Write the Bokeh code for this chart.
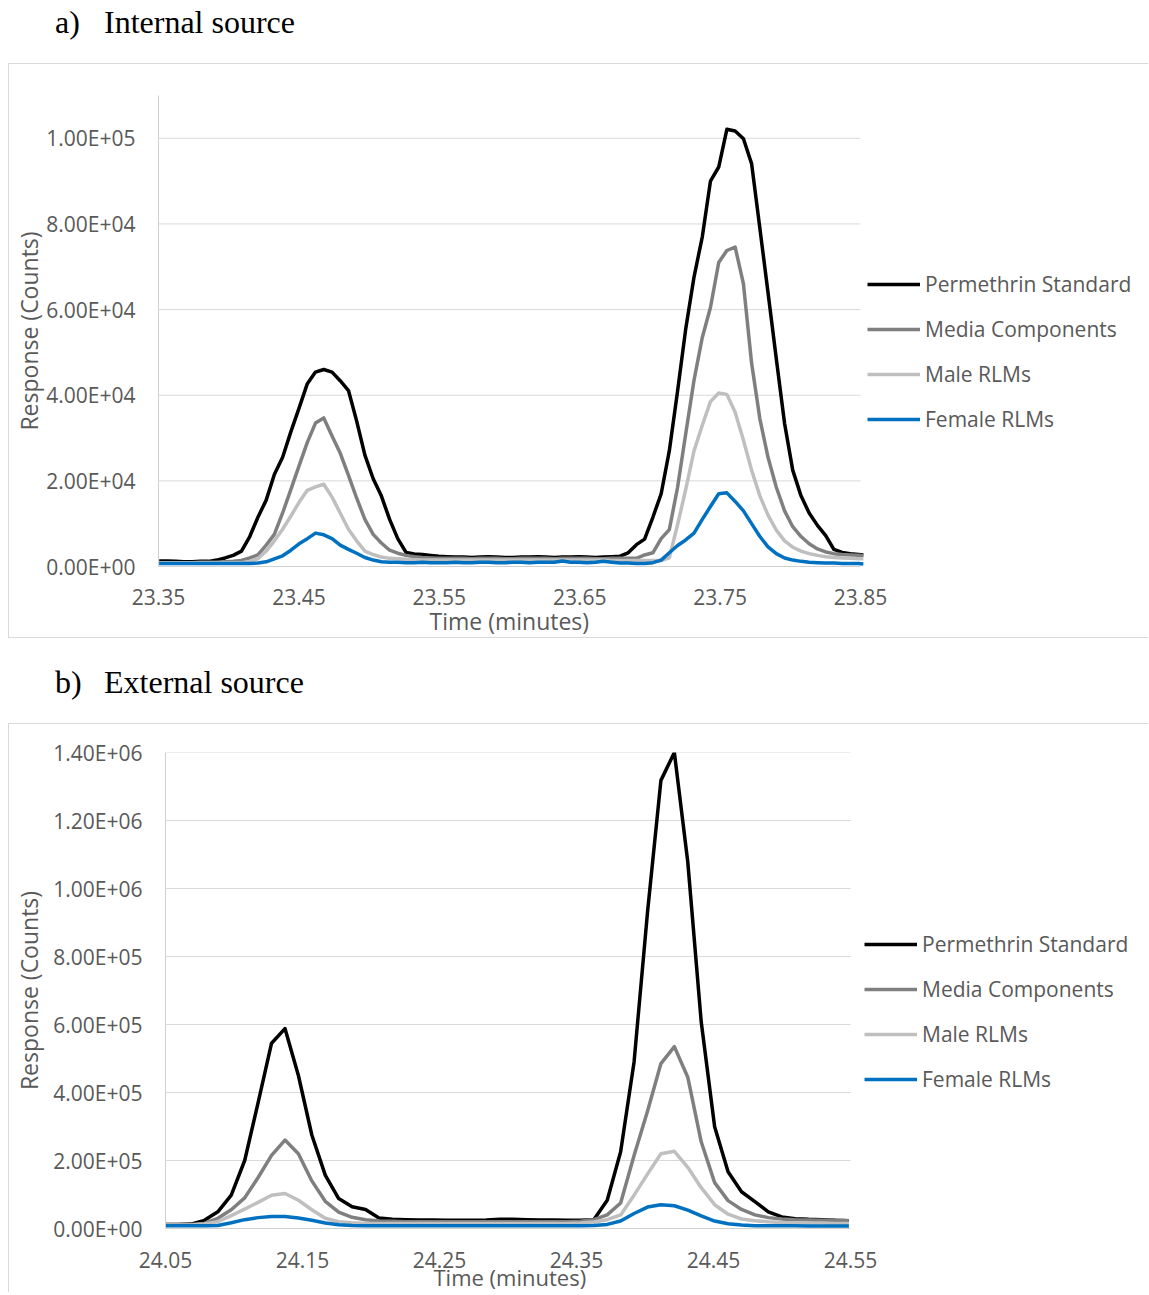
from bokeh.plotting import figure
from bokeh.models import ColumnDataSource, Legend, LegendItem, FixedTicker, Div, Range1d, Title
from bokeh.embed import file_html
from bokeh.resources import INLINE

# ---------------- data ----------------
series_names = ["Permethrin Standard", "Media Components", "Male RLMs", "Female RLMs"]
series_colors = ["#000000", "#7f7f7f", "#bfbfbf", "#0070c0"]

# Panel a) Internal source
time_a = [23.3505, 23.3564, 23.3622, 23.3681, 23.3739, 23.3798, 23.3857, 23.3915, 23.3974, 23.4032,
          23.4091, 23.4150, 23.4208, 23.4267, 23.4325, 23.4384, 23.4443, 23.4501, 23.4560, 23.4618,
          23.4677, 23.4736, 23.4794, 23.4853, 23.4911, 23.4970, 23.5029, 23.5087, 23.5146, 23.5204,
          23.5263, 23.5322, 23.5380, 23.5439, 23.5497, 23.5556, 23.5615, 23.5673, 23.5732, 23.5790,
          23.5849, 23.5908, 23.5966, 23.6025, 23.6083, 23.6142, 23.6201, 23.6259, 23.6318, 23.6376,
          23.6435, 23.6494, 23.6552, 23.6611, 23.6669, 23.6728, 23.6787, 23.6845, 23.6904, 23.6962,
          23.7021, 23.7080, 23.7138, 23.7197, 23.7255, 23.7314, 23.7373, 23.7431, 23.7490, 23.7548,
          23.7607, 23.7666, 23.7724, 23.7783, 23.7841, 23.7900, 23.7959, 23.8017, 23.8076, 23.8134,
          23.8193, 23.8252, 23.8310, 23.8369, 23.8427, 23.8486, 23.8520]

permethrin_a = [1300, 1300, 1200, 1100, 1100, 1200, 1200, 1500, 2000, 2600,
                3600, 7000, 11500, 15500, 21500, 25500, 31500, 37000, 42700, 45400,
                46000, 45400, 43400, 41100, 34000, 26000, 20500, 16500, 11000, 6500,
                3300, 2900, 2800, 2600, 2400, 2300, 2200, 2200, 2100, 2200,
                2300, 2200, 2100, 2100, 2200, 2200, 2300, 2200, 2100, 2200,
                2200, 2300, 2200, 2100, 2200, 2300, 2400, 3200, 5100, 6400,
                11500, 17000, 27000, 41000, 55500, 67600, 77000, 90000, 93300, 102100,
                101700, 99900, 94100, 79000, 64000, 48500, 33400, 22500, 16500, 12500,
                9600, 7200, 4000, 3300, 3000, 2800, 2700]

media_a = [900, 900, 900, 900, 900, 1000, 1000, 1000, 1100, 1200,
           1400, 2000, 2700, 5000, 7500, 12500, 18000, 23500, 29000, 33500,
           34700, 30500, 26500, 21300, 16000, 11000, 7500, 5500, 3800, 3100,
           2600, 2300, 2100, 2000, 1900, 1900, 1900, 1900, 1800, 1900,
           1900, 1900, 1800, 1800, 1900, 1900, 1900, 1900, 1800, 1900,
           1900, 1900, 1900, 1800, 1800, 1900, 1900, 1900, 1900, 2700,
           3200, 6500, 8600, 18500, 31000, 43500, 53500, 60500, 71000, 73800,
           74600, 66000, 47500, 34500, 25500, 18500, 13000, 9300, 7000, 5300,
           4100, 3400, 3000, 2800, 2700, 2600, 2500]

male_a = [900, 900, 900, 900, 900, 900, 900, 900, 900, 900,
          900, 1200, 1800, 3600, 6000, 8700, 11800, 15000, 17800, 18600,
          19200, 16200, 12500, 8700, 6000, 3600, 2800, 2200, 1900, 1800,
          1700, 1600, 1500, 1500, 1500, 1500, 1500, 1500, 1500, 1500,
          1500, 1500, 1500, 1500, 1500, 1500, 1500, 1500, 1500, 1500,
          1500, 1500, 1500, 1500, 1500, 1400, 1400, 1400, 1400, 1400,
          1400, 1400, 2000, 9800, 18000, 27000, 33000, 38500, 40500, 40200,
          36000, 29500, 22500, 16500, 12000, 8500, 6000, 4500, 3600, 3000,
          2600, 2300, 2100, 2000, 1900, 1800, 1800]

female_a = [700, 700, 700, 700, 700, 700, 700, 700, 700, 700,
            700, 700, 800, 1100, 1800, 2500, 3800, 5300, 6500, 7800,
            7400, 6500, 5000, 4000, 3100, 2100, 1500, 1100, 1000, 1000,
            900, 900, 1000, 900, 900, 900, 1000, 900, 900, 1000,
            1000, 900, 900, 1000, 1000, 900, 1000, 1000, 1000, 1300,
            1000, 1000, 900, 1000, 1200, 1000, 800, 800, 700, 700,
            900, 1500, 3200, 4900, 6200, 7800, 11000, 14000, 17000, 17200,
            15200, 13000, 10000, 7000, 4600, 3000, 2000, 1500, 1200, 1000,
            900, 800, 800, 700, 700, 700, 600]

xticks_a = [23.35, 23.45, 23.55, 23.65, 23.75, 23.85]
xlabels_a = ["23.35", "23.45", "23.55", "23.65", "23.75", "23.85"]
yticks_a = [0, 20000, 40000, 60000, 80000, 100000]
ylabels_a = ["0.00E+00", "2.00E+04", "4.00E+04", "6.00E+04", "8.00E+04", "1.00E+05"]

# Panel b) External source
time_b = [24.0490, 24.0588, 24.0686, 24.0784, 24.0882, 24.0980, 24.1078, 24.1176, 24.1274, 24.1372,
          24.1470, 24.1568, 24.1666, 24.1764, 24.1862, 24.1960, 24.2058, 24.2156, 24.2254, 24.2352,
          24.2450, 24.2548, 24.2646, 24.2744, 24.2842, 24.2940, 24.3038, 24.3136, 24.3234, 24.3332,
          24.3430, 24.3528, 24.3626, 24.3724, 24.3822, 24.3920, 24.4018, 24.4116, 24.4214, 24.4312,
          24.4410, 24.4508, 24.4606, 24.4704, 24.4802, 24.4900, 24.4998, 24.5096, 24.5194, 24.5292,
          24.5390, 24.5488]

permethrin_b = [12000, 12000, 13000, 24000, 49000, 98000, 200000, 370000, 545000, 588000,
                450000, 275000, 157000, 88000, 64000, 56000, 31000, 27000, 26000, 25000,
                25000, 24000, 24000, 24000, 25000, 27000, 27000, 26000, 25000, 25000,
                24000, 24000, 26000, 83000, 226000, 490000, 930000, 1318000, 1400000, 1078000,
                608000, 299000, 167000, 108000, 79000, 49000, 34000, 29000, 27000, 26000,
                24000, 23000]

media_b = [12000, 12000, 12000, 15000, 30000, 55000, 90000, 150000, 215000, 260000,
           220000, 140000, 80000, 48000, 33000, 26000, 22000, 21000, 20000, 20000,
           20000, 20000, 20000, 20000, 20000, 20000, 20000, 20000, 20000, 20000,
           20000, 21000, 26000, 40000, 75000, 215000, 345000, 485000, 535000, 445000,
           255000, 135000, 82000, 56000, 40000, 32000, 28000, 26000, 25000, 24000,
           24000, 23000]

male_b = [10000, 10000, 10000, 13000, 20000, 38000, 57000, 77000, 98000, 103000,
          83000, 55000, 30000, 20000, 17000, 15000, 15000, 15000, 15000, 15000,
          15000, 15000, 15000, 15000, 15000, 15000, 15000, 15000, 15000, 15000,
          15000, 16000, 19000, 26000, 40000, 98000, 160000, 220000, 227000, 180000,
          120000, 70000, 42000, 28000, 23000, 20000, 18000, 17000, 16000, 16000,
          15000, 15000]

female_b = [8000, 8000, 8000, 8000, 9000, 17000, 26000, 32000, 35000, 35000,
            31000, 24000, 16000, 11000, 9000, 8000, 8000, 8000, 8000, 8000,
            8000, 8000, 8000, 8000, 8000, 8000, 8000, 8000, 8000, 8000,
            8000, 8000, 9000, 12000, 22000, 44000, 63000, 70000, 67000, 54000,
            37000, 22000, 14000, 10000, 8000, 8000, 8000, 8000, 7000, 7000,
            7000, 7000]

xticks_b = [24.05, 24.15, 24.25, 24.35, 24.45, 24.55]
xlabels_b = ["24.05", "24.15", "24.25", "24.35", "24.45", "24.55"]
yticks_b = [0, 200000, 400000, 600000, 800000, 1000000, 1200000, 1400000]
ylabels_b = ["0.00E+00", "2.00E+05", "4.00E+05", "6.00E+05", "8.00E+05", "1.00E+06", "1.20E+06", "1.40E+06"]

TEXT = "#595959"
FONT = "Open Sans"
GRID = "#d9d9d9"
BORDER = "1px solid #d9d9d9"


def make_panel(t, ys, xticks, xlabels, yticks, ylabels, x_end, y_end, height, borders,
               legend_loc, xtitle, standoffs, styles):
    bl, bt, bb = borders
    x_std, y_std, y_lab_std = standoffs
    xt_offset, xt_std, xt_size = xtitle
    # the frame runs to the canvas' right edge so the legend sits inside it;
    # the axis line and grid lines stop at the last tick
    p = figure(width=1140, height=height, output_backend="svg", toolbar_location=None,
               x_range=Range1d(xticks[0], x_end), y_range=Range1d(0, y_end),
               min_border_left=bl, min_border_right=0, min_border_top=bt, min_border_bottom=bb)
    p.margin = (0, 0, 0, 8)
    p.styles = styles
    p.outline_line_color = None
    p.xgrid.grid_line_color = None
    p.ygrid.grid_line_color = None

    p.segment(x0=xticks[0], x1=xticks[-1], y0=yticks, y1=yticks, line_color=GRID, line_width=1)

    src = ColumnDataSource({"t": t, "s0": ys[0], "s1": ys[1], "s2": ys[2], "s3": ys[3]})
    items = []
    for i, name in enumerate(series_names):
        r = p.line("t", "s%d" % i, source=src, line_color=series_colors[i], line_width=3.5,
                   line_join="round")
        items.append(LegendItem(label=name, renderers=[r]))

    p.xaxis.ticker = FixedTicker(ticks=xticks)
    p.xaxis.major_label_overrides = {v: s for v, s in zip(xticks, xlabels)}
    p.xaxis.bounds = (xticks[0], xticks[-1])
    p.yaxis.ticker = FixedTicker(ticks=yticks)
    p.yaxis.major_label_overrides = {v: s for v, s in zip(yticks, ylabels)}
    for ax in (p.xaxis[0], p.yaxis[0]):
        ax.axis_line_color = "#d0d0d0"
        ax.axis_line_width = 1
        ax.major_tick_line_color = None
        ax.minor_tick_line_color = None
        ax.major_tick_out = 0
        ax.major_tick_in = 0
        ax.minor_tick_out = 0
        ax.minor_tick_in = 0
        ax.major_label_text_font = FONT
        ax.major_label_text_font_size = "21px"
        ax.major_label_text_color = TEXT
        ax.axis_label_text_font = FONT
        ax.axis_label_text_font_size = "23px"
        ax.axis_label_text_font_style = "normal"
        ax.axis_label_text_color = TEXT
    p.yaxis.axis_label = "Response (Counts)"
    p.xaxis.major_label_standoff = x_std
    p.yaxis.major_label_standoff = y_std
    p.yaxis.axis_label_standoff = y_lab_std

    leg = Legend(items=items, location=legend_loc, glyph_width=53, glyph_height=30,
                 label_height=30, label_standoff=5, spacing=15, padding=0, margin=0,
                 border_line_color=None, background_fill_alpha=0,
                 label_text_font=FONT, label_text_font_size="21px", label_text_color=TEXT)
    p.add_layout(leg)

    xt = Title(text="Time (minutes)", align="left", offset=xt_offset, standoff=xt_std,
               text_font=FONT, text_font_size=xt_size, text_font_style="normal",
               text_color=TEXT)
    p.add_layout(xt, "below")
    return p


# frame of a: x 158..1149 with 23.35..23.85 spanning 702 px; frame of b: x 165..1149, 685 px
p_a = make_panel(time_a, [permethrin_a, media_a, male_a, female_a],
                 xticks_a, xlabels_a, yticks_a, ylabels_a, 24.0558, 110000, 575,
                 (149, 31, 73), (709, 132), (271, -10, "23px"), (22, 23, -2),
                 {"border-top": BORDER, "border-left": BORDER, "border-bottom": BORDER})

p_b = make_panel(time_b, [permethrin_b, media_b, male_b, female_b],
                 xticks_b, xlabels_b, yticks_b, ylabels_b, 24.7682, 1400000, 569,
                 (156, 28, 65), (699, 134), (268, -21, "22px"), (23, 23, 5),
                 {"border-top": BORDER, "border-left": BORDER})

# ---------- titles ----------
title_tpl = ('<div style="font-family:\'Liberation Serif\',\'Times New Roman\',serif;'
             'font-size:32px;line-height:32px;color:#000;padding:{pt}px 0 0 55px;white-space:nowrap">'
             '<span style="display:inline-block;width:49px">{a}</span>{b}</div>')
div_a = Div(text=title_tpl.format(pt=6, a="a)", b="Internal source"), width=1149, height=63,
            margin=(0, 0, 0, 0))
div_b = Div(text=title_tpl.format(pt=28, a="b)", b="External source"), width=1149, height=85,
            margin=(0, 0, 0, 0))

open("out.html", "w").write(file_html([div_a, p_a, div_b, p_b], INLINE))
